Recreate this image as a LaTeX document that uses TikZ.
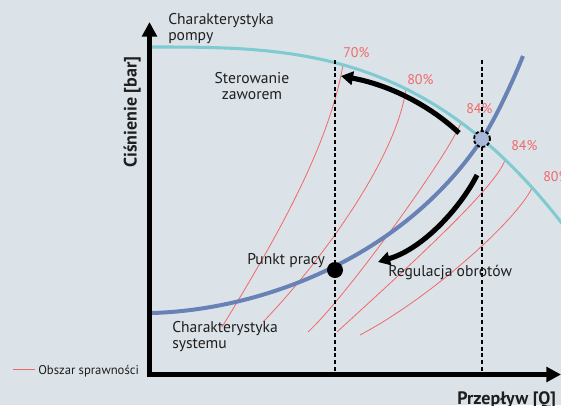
\documentclass[tikz,border=0pt]{standalone}
\usepackage{fontspec}
\setmainfont{PT Sans}
\usetikzlibrary{arrows.meta}
\definecolor{bg}{HTML}{DCE3E8}
\definecolor{pumpc}{HTML}{7FCBD1}
\definecolor{sysc}{HTML}{6882B6}
\definecolor{effc}{HTML}{F26868}
\definecolor{opfill}{HTML}{AAB9D9}
\definecolor{txt}{HTML}{1E1E1E}
\begin{document}
\begin{tikzpicture}[x=0.75pt,y=-0.75pt,
  lbl/.style={font=\fontsize{11.7}{12}\selectfont, text=txt, inner sep=0pt},
  leg/.style={font=\fontsize{9.5}{11}\selectfont, text=txt, inner sep=0pt},
  pct/.style={font=\fontsize{10.5}{12}\selectfont, text=effc, inner sep=0pt},
  axlbl/.style={font=\fontsize{13.5}{15}\selectfont\bfseries, text=txt, inner sep=0pt},
  eff/.style={effc, line width=0.6pt},
  axisline/.style={line width=3.4pt, {Triangle[length=11pt,width=11pt]}-{Triangle[length=11pt,width=11pt]}},
  guide/.style={line width=2.2pt, dash pattern=on 3pt off 2pt},
  bigarrow/.style={line width=3.8pt, -{Triangle[length=9pt,width=10pt]}},
  pumpline/.style={pumpc, line width=2.3pt},
  sysline/.style={sysc, line width=3pt}]
\useasboundingbox (0,0) rectangle (561,405);
\fill[bg] (0,0) rectangle (561,405);
\clip (0,0) rectangle (561,405);

% efficiency curves
\draw[eff] (343,65) .. controls (328,150) and (272,245) .. (222,327);
\draw[eff] (406,89) .. controls (396,160) and (318,265) .. (263,322);
\draw[eff] (461,123) .. controls (445,160) and (345,298) .. (308,332);
\draw[eff] (505,160) .. controls (495,190) and (390,283) .. (337,332);
\draw[eff] (532,188) .. controls (515,222) and (430,298) .. (360,335);

% pump and system characteristics
\draw[pumpline] plot[domain=152:575, samples=80, smooth] (\x, {47+2.56*((\x-152)/100)^3});
\draw[sysline] (152,313) .. controls (260,310) and (402,259) .. (482,139)
               .. controls (497,116.5) and (515,76) .. (523,56);

% axes
\coordinate (ytop) at (149.5,22);
\coordinate (O) at (149.5,374.5);
\coordinate (xend) at (561,374.5);
\draw[axisline] (ytop) -- (O) -- (xend);

% guide lines
\coordinate (g1top) at (335,60);
\coordinate (g1bot) at (335,374);
\coordinate (g2top) at (482,60);
\coordinate (g2bot) at (482,374);
\draw[guide] (g1top) -- (g1bot);
\draw[guide] (g2top) -- (g2bot);

% points
\node[circle, fill=black, minimum size=12pt, inner sep=0pt] (work) at (335,270) {};
\node[circle, fill=opfill, draw=black, line width=1.4pt, dash pattern=on 2.5pt off 1.5pt, minimum size=12pt, inner sep=0pt] (op) at (482,139) {};

% arrows
\coordinate (a1s) at (459,133);
\coordinate (a1e) at (341,76);
\draw[bigarrow] (a1s) .. controls (435,110) and (395,86) .. (a1e);
\coordinate (a2s) at (477,175);
\coordinate (a2e) at (378,262);
\draw[bigarrow] (a2s) .. controls (462,205) and (425,248) .. (a2e);

% labels
\node[lbl, align=left, anchor=west] (pumplbl) at (168,28.1) {Charakterystyka\\pompy};
\node[lbl, align=center] (steer) at (252,86.4) {Sterowanie\\zaworem};
\node[lbl, anchor=base west] (punkt) at (247,264.3) {Punkt pracy};
\node[lbl, align=left, anchor=west] (syslbl) at (172,337) {Charakterystyka\\systemu};
\node[lbl, anchor=base west] (regul) at (388,276) {Regulacja obrotów};

\node[pct, anchor=base west] (p70) at (343,57.3) {70\%};
\node[pct, anchor=base west] (p80a) at (407,84.3) {80\%};
\node[pct, anchor=base west] (p84a) at (466,113.3) {84\%};
\node[pct, anchor=base west] (p84b) at (511,150) {84\%};
\node[pct, anchor=base west] (p80b) at (543,181.7) {80\%};

\node[axlbl, rotate=90, anchor=base west] (ylbl) at (136.5,168) {Ciśnienie [bar]};
\node[axlbl, anchor=base west] (xlbl) at (457,404) {Przepływ [Q]};

% legend
\coordinate (lg1) at (13,369);
\coordinate (lg2) at (35,369);
\draw[eff] (lg1) -- (lg2);
\node[leg, anchor=base west] (lgt) at (38,374) {Obszar sprawności};
\end{tikzpicture}
\end{document}
